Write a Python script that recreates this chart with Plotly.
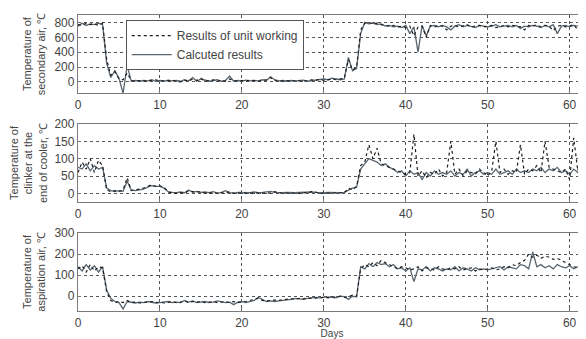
import plotly.graph_objects as go
from plotly.subplots import make_subplots

days = [0.0, 0.5, 1.0, 1.5, 2.0, 2.5, 3.0, 3.5, 4.0, 4.5,
        5.0, 5.5, 6.0, 6.5, 7.0, 7.5, 8.0, 8.5, 9.0, 9.5,
        10.0, 10.5, 11.0, 11.5, 12.0, 12.5, 13.0, 13.5, 14.0, 14.5,
        15.0, 15.5, 16.0, 16.5, 17.0, 17.5, 18.0, 18.5, 19.0, 19.5,
        20.0, 20.5, 21.0, 21.5, 22.0, 22.5, 23.0, 23.5, 24.0, 24.5,
        25.0, 25.5, 26.0, 26.5, 27.0, 27.5, 28.0, 28.5, 29.0, 29.5,
        30.0, 30.5, 31.0, 31.5, 32.0, 32.5, 33.0, 33.5, 34.0, 34.5,
        35.0, 35.5, 36.0, 36.5, 37.0, 37.5, 38.0, 38.5, 39.0, 39.5,
        40.0, 40.5, 41.0, 41.5, 42.0, 42.5, 43.0, 43.5, 44.0, 44.5,
        45.0, 45.5, 46.0, 46.5, 47.0, 47.5, 48.0, 48.5, 49.0, 49.5,
        50.0, 50.5, 51.0, 51.5, 52.0, 52.5, 53.0, 53.5, 54.0, 54.5,
        55.0, 55.5, 56.0, 56.5, 57.0, 57.5, 58.0, 58.5, 59.0, 59.5,
        60.0, 60.5, 61.0, 61.5, 62.0]

secondary_measured = [770, 760, 790, 770, 780, 760, 790, 300, 90, 140,
                      40, 30, 120, 20, 10, 20, 15, 10, 20, 30,
                      10, 20, 15, 25, 10, 0, 20, 10, 40, 20,
                      50, 10, 20, 30, 10, 20, 10, 40, 20, 10,
                      20, 15, 25, 20, 10, 20, 30, 60, 20, 10,
                      15, 20, 10, 20, 15, 10, 20, 30, 20, 40,
                      20, 30, 40, 30, 40, 50, 300, 160, 200, 700,
                      790, 800, 780, 790, 770, 760, 750, 760, 740, 750,
                      730, 750, 620, 740, 750, 600, 760, 740, 760, 750,
                      700, 750, 760, 740, 750, 770, 740, 750, 760, 740,
                      750, 760, 730, 750, 760, 740, 760, 750, 740, 700,
                      760, 750, 770, 740, 760, 750, 690, 750, 760, 740,
                      750, 770, 700, 760, 750]
secondary_calculated = [750, 790, 760, 780, 770, 790, 770, 250, 60, 150,
                        50, -150, 220, 10, 20, 10, 20, 15, 30, 10,
                        20, 10, 25, 15, 20, 10, 30, 15, 60, 10,
                        40, 20, 10, 20, 30, 10, 20, 80, 10, 20,
                        10, 25, 15, 20, 15, 30, 20, 70, 30, 15,
                        20, 10, 20, 15, 20, 25, 10, 20, 30, 30,
                        40, 30, 50, 40, 30, 40, 330, 150, 180, 650,
                        800, 780, 790, 770, 780, 750, 760, 740, 750, 730,
                        760, 650, 740, 400, 760, 620, 750, 760, 740, 760,
                        740, 700, 750, 770, 740, 760, 750, 730, 760, 750,
                        740, 750, 770, 740, 750, 760, 740, 760, 720, 750,
                        740, 760, 750, 730, 760, 740, 770, 650, 750, 760,
                        740, 760, 750, 770, 760]

clinker_measured = [60, 90, 70, 100, 60, 95, 80, 10, 5, 8,
                    5, 10, 45, 8, 10, 12, 15, 20, 25, 20,
                    22, 18, 3, 2, 0, 2, 0, 8, 5, 5,
                    4, 2, 0, 3, 0, 2, 0, 5, 0, 1,
                    0, 1, 0, 2, 1, 0, 2, 1, 5, 2,
                    0, 1, 0, 1, 0, 2, 1, 5, 4, 0,
                    0, 1, 0, 0, 1, 2, 15, 10, 20, 80,
                    90, 140, 100, 130, 85, 80, 75, 70, 65, 60,
                    55, 60, 170, 50, 65, 45, 60, 55, 70, 50,
                    60, 150, 55, 70, 50, 65, 60, 55, 70, 60,
                    50, 65, 150, 60, 70, 55, 65, 60, 140, 55,
                    70, 65, 80, 60, 150, 75, 70, 65, 60, 70,
                    40, 160, 65, 150, 70]
clinker_calculated = [75, 70, 85, 65, 80, 70, 75, 15, 8, 5,
                      8, 6, 35, 10, 8, 10, 12, 18, 22, 20,
                      20, 15, 5, 3, 2, 4, 2, 10, 3, 6,
                      3, 4, 2, 5, 1, 3, 8, 2, 1, 3,
                      2, 3, 2, 4, 2, 3, 4, 6, 3, 2,
                      2, 3, 2, 2, 3, 4, 5, 4, 3, 2,
                      2, 3, 2, 3, 2, 3, 10, 15, 18, 70,
                      85, 100, 95, 90, 80, 85, 75, 70, 60, 65,
                      50, 65, 55, 60, 40, 60, 50, 65, 55, 60,
                      55, 65, 50, 60, 55, 70, 50, 60, 65, 55,
                      60, 55, 70, 55, 60, 65, 55, 70, 60, 65,
                      60, 70, 65, 75, 60, 70, 65, 75, 60, 65,
                      55, 70, 60, 75, 65]

aspiration_measured = [130, 145, 115, 150, 120, 140, 135, 20, -20, -30,
                       -25, -30, -20, -30, -28, -32, -30, -28, -25, -30,
                       -28, -32, -30, -25, -30, -28, -22, -30, -25, -28,
                       -25, -30, -28, -25, -30, -28, -26, -30, -25, -30,
                       -28, -25, -20, -15, -10, -20, -22, -20, -18, -20,
                       -18, -15, -12, -15, -10, -12, -8, -10, -8, -5,
                       -5, -8, -3, -5, 0, -5, -2, 5, 0, 130,
                       150, 140, 160, 145, 170, 160, 150, 140, 130, 140,
                       135, 125, 130, 140, 120, 135, 130, 125, 140, 130,
                       125, 135, 130, 140, 125, 130, 135, 120, 130, 125,
                       130, 135, 125, 130, 140, 135, 150, 145, 160, 170,
                       200, 185, 195, 180, 190, 185, 175, 180, 170, 160,
                       150, 140, 135, 145, 130]
aspiration_calculated = [140, 120, 150, 125, 145, 115, 140, 30, -10, -25,
                         -30, -60, -25, -30, -32, -28, -30, -25, -28, -32,
                         -30, -28, -25, -30, -28, -30, -20, -28, -22, -30,
                         -28, -25, -30, -28, -22, -25, -30, -28, -40, -28,
                         -25, -30, -25, -20, -5, -15, -25, -22, -25, -22,
                         -20, -18, -15, -10, -12, -15, -10, -8, -5, -8,
                         -5, -3, -5, -8, 0, -2, -15, 0, -3, 140,
                         130, 155, 140, 160, 150, 155, 140, 150, 130, 135,
                         120, 135, 70, 130, 125, 140, 120, 135, 130, 120,
                         130, 125, 140, 120, 135, 130, 120, 135, 125, 130,
                         125, 130, 135, 140, 125, 140, 135, 130, 150, 145,
                         130, 210, 140, 150, 135, 145, 130, 150, 140, 135,
                         145, 130, 140, 150, 135]

x_ticks = [0, 10, 20, 30, 40, 50, 60]
y1_ticks = [0, 200, 400, 600, 800]
y2_ticks = [0, 50, 100, 150, 200]
y3_ticks = [0, 100, 200, 300]

y_titles = ["Temperature of<br>secondary air, ℃",
            "Temperature of<br>clinker at the<br>end of cooler, ℃",
            "Temperature of<br>aspiration air, ℃"]
name_measured = "Results of unit working"
name_calculated = "Calcuted results"

FONT = "Liberation Sans"
TXT = "#444444"

fig = make_subplots(rows=3, cols=1)

panels = [(secondary_measured, secondary_calculated),
          (clinker_measured, clinker_calculated),
          (aspiration_measured, aspiration_calculated)]

for i, (meas, calc) in enumerate(panels, start=1):
    fig.add_trace(go.Scatter(x=days, y=calc, mode="lines", name=name_calculated,
                             line=dict(color="#5a6670", width=1.3),
                             showlegend=False), row=i, col=1)
    fig.add_trace(go.Scatter(x=days, y=meas, mode="lines", name=name_measured,
                             line=dict(color="#1e1e1e", width=1.2, dash="dot"),
                             showlegend=False), row=i, col=1)

# legend entries (order: measured first)
fig.add_trace(go.Scatter(x=[None], y=[None], mode="lines", name=name_measured,
                         line=dict(color="#1e1e1e", width=1.2, dash="dot")), row=1, col=1)
fig.add_trace(go.Scatter(x=[None], y=[None], mode="lines", name=name_calculated,
                         line=dict(color="#5a6670", width=1.2)), row=1, col=1)

axis_common = dict(showline=True, linecolor="#7a7a7a", linewidth=1.3, mirror=True,
                   showgrid=True, gridcolor="#555555", griddash="dot", gridwidth=1,
                   zeroline=False, ticks="inside", ticklen=3, tickcolor="#777777",
                   automargin=False,
                   tickfont=dict(family=FONT, size=12, color=TXT))

domains = [[0.736, 1.0], [0.368, 0.632], [0.0, 0.2635]]
y_ranges = [[-150, 900], [-25, 200], [-70, 300]]
y_tickvals = [y1_ticks, y2_ticks, y3_ticks]

for i in range(3):
    xa = "xaxis" if i == 0 else f"xaxis{i+1}"
    ya = "yaxis" if i == 0 else f"yaxis{i+1}"
    fig.layout[xa].update(range=[0, 62], tickvals=x_ticks, **axis_common)
    fig.layout[ya].update(domain=domains[i], range=y_ranges[i], tickvals=y_tickvals[i],
                          title=dict(text=y_titles[i], standoff=6,
                                     font=dict(family=FONT, size=11, color=TXT)),
                          **axis_common)

fig.layout.xaxis3.title = dict(text="Days", standoff=0,
                               font=dict(family=FONT, size=10, color=TXT))

# The page body has an 8 px margin, so the figure is sized and offset to fit.
fig.update_layout(
    width=578, height=331,
    margin=dict(l=70, r=0, t=7, b=28),
    paper_bgcolor="white", plot_bgcolor="white",
    font=dict(family=FONT, size=11, color=TXT),
    legend=dict(x=0.094, y=0.983, xanchor="left", yanchor="top",
                bgcolor="white", bordercolor="#555555", borderwidth=1,
                font=dict(family=FONT, size=12, color=TXT),
                itemwidth=40, tracegroupgap=0),
)

fig.write_html("out.html")
